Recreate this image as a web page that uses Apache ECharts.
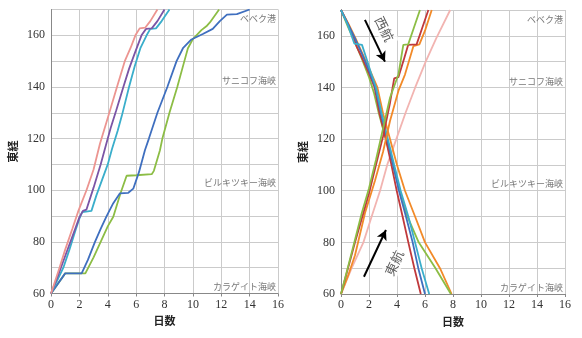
<!DOCTYPE html>
<html>
<head>
<meta charset="utf-8">
<script src="https://cdn.jsdelivr.net/npm/echarts@6/dist/echarts.min.js"></script>
<style>
  html, body { margin: 0; padding: 0; background: #fff; }
  #chart { width: 582px; height: 338px; }
</style>
</head>
<body>
<div id="chart"></div>
<script>
// Longitude (東経) reached after N days, per voyage. Left panel: eastbound runs.
const leftRun1 = [[0,60],[0.6,70],[1,77],[1.5,85],[1.93,92],[2.5,100],[3,108],[3.45,118],[4,128],[4.65,140],[5.2,150],[5.6,155],[5.95,160],[6.25,162.7],[6.65,163],[7,165.5],[7.5,170]];
const leftRun2 = [[0,60],[0.5,67],[1,74.5],[1.5,82],[2,89.5],[2.25,92],[2.5,92.5],[3,101],[3.5,110],[3.85,117],[4.2,124],[4.6,131],[5.1,140],[5.5,147],[5.9,153],[6.38,160],[6.7,162.5],[7.1,162.7],[7.5,165.5],[8,170]];
const leftRun3 = [[0,60],[0.87,70],[1.3,77],[1.7,84],[2,89],[2.2,91.5],[2.85,92],[3.2,98],[3.6,104],[4,110],[4.3,116],[4.7,123],[5,129],[5.5,140],[5.9,148],[6.3,155],[6.74,160],[7,162.5],[7.4,162.7],[7.8,165.5],[8.35,170]];
const leftRun4 = [[0,60],[1,67.8],[2.16,67.8],[2.6,73],[3.1,80],[3.5,85],[3.92,90],[4.39,95],[4.86,98.8],[5.45,99],[5.8,100.6],[6.2,107],[6.62,115.5],[6.9,120],[7.5,130],[8.2,140],[8.85,150],[9.3,155],[9.9,158.4],[10.7,160.5],[11.4,162.5],[11.9,165.5],[12.4,168],[13.1,168.2],[14,170]];
const leftRun5 = [[0,60],[1,67.8],[2.42,67.8],[3,74],[3.5,80],[4,86],[4.39,89.7],[4.9,98.8],[5.33,105.6],[6,105.8],[7.1,106.2],[7.25,107.5],[7.68,115.5],[7.85,120],[8.35,130],[8.9,140],[9.4,150],[9.65,155],[10,158.5],[10.6,162],[10.95,163.5],[11.2,165],[11.85,170]];

// Right panel: westbound runs (from 170 down to 60)
const westRed    = [[0,170],[0.5,164.5],[0.9,159.5],[1.1,156],[1.5,151.5],[2,145.5],[2.4,140],[2.75,130],[3.2,120],[3.6,110],[3.98,100],[4.4,90],[4.81,80],[5.24,70],[5.7,60]];
const westBlue   = [[0,170],[0.5,164.5],[1,159],[1.5,153],[2,146.5],[2.45,140],[2.85,130],[3.3,120],[3.72,110],[4.14,100],[4.64,90],[5.12,80],[5.52,70],[6,60]];
const westCyan   = [[0,170],[0.5,164],[0.95,157],[1.5,156.5],[1.8,151.5],[2.15,145.5],[2.5,140],[2.9,130],[3.35,120],[3.8,110],[4.26,100],[4.81,90],[5.29,80],[5.76,70],[6.3,60]];
const westGreen  = [[0,170],[0.5,163.5],[1,157.5],[1.5,151],[2,144],[2.35,138],[2.7,130],[3.2,120],[3.7,110],[4.2,100],[4.75,90],[5.55,80],[6.75,70],[7.85,60]];
const westOrange = [[0,170],[0.5,165],[1,159.5],[1.5,153.5],[2,147.5],[2.6,140],[3,130],[3.5,120],[4,110],[4.57,100],[5.29,90],[6,80],[7.07,70],[7.9,60]];

// Right panel: eastbound runs (from 60 up to 170)
const eastGreen  = [[0,60],[0.5,70.5],[1,81],[1.48,91.3],[2,101],[2.5,112],[3,124],[3.5,136],[4.1,145],[4.45,156.5],[4.8,156.7],[5.2,163],[5.64,170]];
const eastRed    = [[0,60],[0.5,70],[1,80],[1.5,89.5],[2,99],[2.5,110],[3,121],[3.5,134],[3.8,143.5],[4.1,144],[4.5,151],[4.8,156.5],[5.4,156.7],[5.8,163],[6.24,170]];
const eastOrange = [[0,60],[0.5,67],[1,75],[1.71,91.3],[2.43,104],[3,115],[3.5,127],[4.12,139],[4.57,145],[5.17,156],[5.6,156.7],[6,162],[6.48,170]];
const eastPink   = [[0,60],[0.76,70],[1.6,80],[2.19,90],[2.79,100],[3.3,110],[3.95,120],[4.6,130],[5.3,140],[6.05,150],[6.8,159],[7.8,170]];

// Landmarks along the route and their longitudes
const landmarkNames = ['ベベク港', 'サニコフ海峡', 'ビルキツキー海峡', 'カラゲイト海峡'];
const landmarkLon   = [166.4, 142.4, 102.8, 62.6];

const dayMin = 0, dayMax = 16, dayStep = 2;
const lonMin = 60, lonMax = 170, lonStep = 10, lonLabelStep = 20;

const NUM_FONT = '"Liberation Serif", "DejaVu Serif", serif';
const JP_FONT = '"Noto Sans CJK JP", sans-serif';

const C = {
  pink: '#ec9591', purple: '#7b55a6', cyan: '#3aaecb', blue: '#3f6fbf',
  green: '#8cbd45', red: '#c0393c', orange: '#f28a28', lightPink: '#f2b4b1'
};

function run(data, color, idx) {
  return {
    type: 'line', xAxisIndex: idx, yAxisIndex: idx, data: data,
    showSymbol: false, symbol: 'none', smooth: false, clip: true,
    lineStyle: { color: color, width: 1.8 }, itemStyle: { color: color },
    emphasis: { disabled: true }, z: 3
  };
}

function landmarks(idx) {
  return {
    type: 'scatter', xAxisIndex: idx, yAxisIndex: idx, symbolSize: 0, silent: true, z: 4,
    data: landmarkNames.map((n, i) => ({ name: n, value: [dayMax, landmarkLon[i]] })),
    label: {
      show: true, position: 'left', distance: 2, formatter: '{b}',
      fontFamily: JP_FONT, fontSize: 9, color: '#555'
    }
  };
}

function xAxis(idx) {
  return {
    type: 'value', gridIndex: idx, min: dayMin, max: dayMax, interval: dayStep,
    name: '日数', nameLocation: 'middle', nameGap: 22,
    nameTextStyle: { fontFamily: JP_FONT, fontSize: 11, fontWeight: 'bold', color: '#222' },
    axisLine: { show: true, lineStyle: { color: '#888', width: 1 } },
    axisTick: { show: true, length: 3, lineStyle: { color: '#888' } },
    axisLabel: { margin: 5, fontFamily: NUM_FONT, fontSize: 12, color: '#333' },
    splitLine: { show: true, lineStyle: { color: '#cbcbcb', width: 1 } }
  };
}

function yAxis(idx) {
  return {
    type: 'value', gridIndex: idx, min: lonMin, max: lonMax, interval: lonStep,
    name: '東経', nameLocation: 'middle', nameGap: 33,
    nameTextStyle: { fontFamily: JP_FONT, fontSize: 11, fontWeight: 'bold', color: '#222' },
    axisLine: { show: true, lineStyle: { color: '#888', width: 1 } },
    axisTick: { show: false },
    axisLabel: {
      margin: 6, fontFamily: NUM_FONT, fontSize: 12, color: '#333',
      formatter: v => ((v - lonMin) % lonLabelStep === 0 && v < lonMax) ? String(v) : ''
    },
    splitLine: { show: true, lineStyle: { color: '#cbcbcb', width: 1 } }
  };
}

const chart = echarts.init(document.getElementById('chart'), null, { renderer: 'canvas' });

chart.setOption({
  animation: false,
  backgroundColor: '#fff',
  grid: [
    { left: 51, top: 9.5, width: 227, height: 284 },
    { left: 341, top: 10, width: 224, height: 284 }
  ],
  xAxis: [xAxis(0), xAxis(1)],
  yAxis: [yAxis(0), yAxis(1)],
  series: [
    run(leftRun5, C.green, 0),
    run(leftRun4, C.blue, 0),
    run(leftRun3, C.cyan, 0),
    run(leftRun2, C.purple, 0),
    run(leftRun1, C.pink, 0),
    landmarks(0),

    run(eastPink, C.lightPink, 1),
    run(westOrange, C.orange, 1),
    run(westGreen, C.green, 1),
    run(westRed, C.red, 1),
    run(westBlue, C.blue, 1),
    run(westCyan, C.cyan, 1),
    run(eastOrange, C.orange, 1),
    run(eastRed, C.red, 1),
    run(eastGreen, C.green, 1),
    landmarks(1),
    {
      // direction arrows with their captions
      type: 'scatter', xAxisIndex: 1, yAxisIndex: 1, symbolSize: 0, silent: true, z: 5,
      data: [
        { name: '西航', value: [3.1, 162.6], label: { rotate: -64 } },
        { name: '東航', value: [3.8, 72.0], label: { rotate: 65 } }
      ],
      label: {
        show: true, position: 'inside', formatter: '{b}',
        fontFamily: JP_FONT, fontSize: 13, color: '#333',
        backgroundColor: '#fff', padding: [2, 3]
      },
      markLine: {
        silent: true, symbol: ['none', 'arrow'], symbolSize: [8, 10],
        lineStyle: { color: '#000', width: 2, type: 'solid' },
        label: { show: false },
        data: [
          [{ coord: [1.71, 166.2] }, { coord: [3.14, 150] }],
          [{ coord: [1.64, 66.7] }, { coord: [3.21, 84.8] }]
        ]
      }
    }
  ]
});
</script>
</body>
</html>
